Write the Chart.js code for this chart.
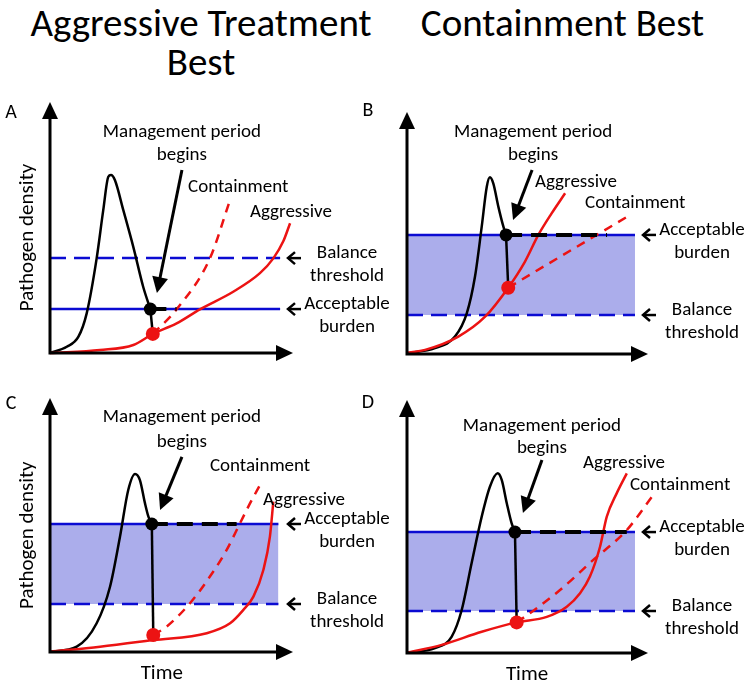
<!DOCTYPE html>
<html><head><meta charset="utf-8">
<script src="https://cdn.jsdelivr.net/npm/chart.js@4/dist/chart.umd.min.js"></script>
<style>
body{margin:0;width:750px;height:685px;background:#fff;position:relative;overflow:hidden;font-family:Carlito,Calibri,Lato,sans-serif}
.t{position:absolute;font-size:39px;text-align:center;line-height:39px;color:#000;white-space:nowrap}
canvas{position:absolute}
</style></head><body>
<div class="t" style="left:1px;width:400px;top:3px">Aggressive Treatment<br>Best</div>
<div class="t" style="left:375px;width:375px;top:3px">Containment Best</div>
<canvas id="cA" width="400" height="300" style="left:0;top:85px"></canvas>
<canvas id="cB" width="400" height="300" style="left:350px;top:85px"></canvas>
<canvas id="cC" width="400" height="300" style="left:0;top:385px"></canvas>
<canvas id="cD" width="400" height="300" style="left:350px;top:385px"></canvas>
<script>
// ---- data (x: time 0-100 to arrow tip, y: density 0-100 to arrow tip) ----
const panelLetters = ['A','B','C','D'];
const acceptableBurden = [17.5, 49.2, 50.4, 47.8];
const balanceThreshold = [37.8, 16.1, 18.9, 16.6];
const thresholdEnd = [94.7, 94.6, 94.0, 94.6];

const outbreakA = [[0,0],[6.9,2.5],[11.7,6.5],[15.1,15.8],[19.2,37.7],[21.9,56.8],[24.0,70.2],[25.1,70.9],[26.7,68.9],[30.2,56.8],[34.3,42.2],[38.4,26.2],[41.3,17.5]];
const aggressiveA = [[0,0],[20.6,1.2],[34.3,3.2],[42.3,7.6],[52.1,11.8],[61.7,17.4],[75.4,24.4],[86.4,31.8],[91.9,37.7],[96.0,44.5],[98.8,51.7]];
const containmentA = [[42.3,7.6],[52.1,17.4],[65.8,37.7],[74.1,61.0]];

const outbreakB = [[0,0.3],[11.6,2.4],[19.9,7.2],[24.8,16.8],[28.2,31.9],[31.0,52.6],[33.1,69.1],[34.4,73.0],[35.8,70.5],[37.9,60.9],[40.0,52.6],[41.1,49.2]];
const aggressiveB = [[0,0.5],[7.5,1.7],[21.3,7.2],[32.4,15.4],[42.0,27.4],[48.9,38.1],[54.5,49.2],[60.0,58.1],[65.6,66.4]];
const containmentB = [[42.0,27.4],[92.5,57.4]];

const outbreakC = [[0,0.1],[11.0,2.1],[19.2,11.3],[24.7,25.7],[28.8,45.4],[32.2,63.8],[35.0,70.1],[37.0,67.7],[39.1,58.5],[40.5,53.3],[41.9,50.4]];
const aggressiveC = [[0,0.1],[20.6,2.1],[42.5,4.7],[64.5,7.4],[74.1,11.3],[79.5,16.5],[83.7,21.8],[87.8,32.3],[90.5,45.4],[91.9,59.2]];
const containmentC = [[42.5,6.7],[48.0,10.0],[57.6,19.2],[65.8,29.7],[72.7,40.2],[78.2,50.7],[82.3,58.5],[86.4,65.7]];

const outbreakD = [[0,0.1],[11.6,1.9],[18.5,6.4],[22.7,17.0],[26.8,35.5],[31.0,53.9],[34.4,65.7],[37.6,71.0],[39.3,68.4],[41.4,59.2],[43.4,51.3],[44.8,47.8]];
const aggressiveD = [[0,0.1],[14.4,3.2],[31.0,8.4],[45.5,12.1],[58.0,14.3],[66.3,18.3],[71.8,23.6],[75.9,30.2],[80.1,42.0],[82.9,53.9],[87.0,63.1],[91.2,71.0]];
const containmentD = [[45.5,12.1],[51.0,15.7],[63.5,24.9],[77.3,36.8],[91.2,48.6],[102.2,62.5]];

const managementStart = [[41.3,17.5],[41.1,49.2],[41.9,50.4],[44.8,47.8]]; // black dot
const managementRed   = [[42.3,7.6],[42.0,27.4],[42.5,6.7],[45.5,12.1]];  // red dot
const holdEnd = [52.1, 83.0, 76.8, 91.2]; // end of black dashed hold line

// ---- annotation text ----
const mgmtText = ['Management period','begins'];
const mgmtTextPos = [[54.3,88.0,78.9],[52.3,91.7,82.2],[54.3,92.5,82.7],[56.0,89.7,81.0]];
const mgmtArrow = [[[54.3,72.9],[44.0,23.9]],[[51.9,76.0],[44.0,55.4]],[[54.3,76.8],[45.3,55.9]],[[56.0,76.3],[48.1,55.3]]];
const containmentLabel = [[56.8,66.1],[73.9,62.4],[65.8,73.2],[92.5,66.4]];
const aggressiveLabel = [[82.3,56.2],[53.1,71.1],[87.7,59.8],[73.0,75.1]];
const timeLabelX = [null,null,46.0,49.8];
const shaded = [false,true,true,true];
const letterDy = [11,-1,6,3];

const BLUE='#0b0bd2', RED='#ec1313', FILL='rgba(120,122,222,0.62)';
const FF='Carlito, Calibri, Lato, sans-serif';
const pts = a => a.map(p => ({x:p[0], y:p[1]}));

const sketch = {
  id:'sketch',
  afterDraw(chart, args, o){
    const i=o.i, ctx=chart.ctx, a=chart.chartArea, xs=chart.scales.x, ys=chart.scales.y;
    const X=v=>xs.getPixelForValue(v), Y=v=>ys.getPixelForValue(v);
    ctx.save();
    ctx.strokeStyle='#000'; ctx.fillStyle='#000'; ctx.lineCap='butt';
    // axes with arrowheads
    ctx.lineWidth=3;
    ctx.beginPath(); ctx.moveTo(a.left,a.top+10); ctx.lineTo(a.left,a.bottom); ctx.lineTo(a.right-10,a.bottom); ctx.stroke();
    ctx.beginPath(); ctx.moveTo(a.left,a.top); ctx.lineTo(a.left-8,a.top+17); ctx.lineTo(a.left+8,a.top+17); ctx.closePath(); ctx.fill();
    ctx.beginPath(); ctx.moveTo(a.right,a.bottom); ctx.lineTo(a.right-17,a.bottom-8); ctx.lineTo(a.right-17,a.bottom+8); ctx.closePath(); ctx.fill();
    // management arrow
    const [p0,p1]=mgmtArrow[i];
    const x0=X(p0[0]),y0=Y(p0[1]),x1=X(p1[0]),y1=Y(p1[1]);
    const ang=Math.atan2(y1-y0,x1-x0), L=16, W=8;
    ctx.lineWidth=3;
    ctx.beginPath(); ctx.moveTo(x0,y0); ctx.lineTo(x1-Math.cos(ang)*L*0.8,y1-Math.sin(ang)*L*0.8); ctx.stroke();
    ctx.beginPath(); ctx.moveTo(x1,y1);
    ctx.lineTo(x1-Math.cos(ang)*L+Math.sin(ang)*W, y1-Math.sin(ang)*L-Math.cos(ang)*W);
    ctx.lineTo(x1-Math.cos(ang)*L-Math.sin(ang)*W, y1-Math.sin(ang)*L+Math.cos(ang)*W);
    ctx.closePath(); ctx.fill();
    // texts
    ctx.textBaseline='middle';
    ctx.font='19px '+FF; ctx.textAlign='center';
    const mp=mgmtTextPos[i];
    ctx.fillText(mgmtText[0],X(mp[0]),Y(mp[1]));
    ctx.fillText(mgmtText[1],X(mp[0]),Y(mp[2]));
    ctx.textAlign='left';
    ctx.fillText('Containment',X(containmentLabel[i][0]),Y(containmentLabel[i][1]));
    ctx.fillText('Aggressive',X(aggressiveLabel[i][0]),Y(aggressiveLabel[i][1]));
    // right side labels with chevron arrows
    const labs=[[acceptableBurden[i],['Acceptable','burden']],[balanceThreshold[i],['Balance','threshold']]];
    ctx.lineWidth=2.5; ctx.textAlign='center';
    for(const [v,t] of labs){
      const y=Y(v), tip=a.right-5;
      ctx.beginPath(); ctx.moveTo(tip,y); ctx.lineTo(tip+13,y); ctx.stroke();
      ctx.beginPath(); ctx.moveTo(tip+7,y-6); ctx.lineTo(tip,y); ctx.lineTo(tip+7,y+6); ctx.stroke();
      ctx.fillText(t[0],a.right+54,y-5);
      ctx.fillText(t[1],a.right+54,y+18);
    }
    // panel letter
    ctx.font='20px '+FF;
    ctx.fillText(panelLetters[i],a.left-39,a.top+letterDy[i]);
    // axis titles
    if(i%2===0){
      ctx.save(); ctx.translate(a.left-22,Y(46)); ctx.rotate(-Math.PI/2);
      ctx.font='21px '+FF; ctx.fillText('Pathogen density',0,0); ctx.restore();
    }
    if(timeLabelX[i]!==null){
      ctx.font='21px '+FF; ctx.fillText('Time',X(timeLabelX[i]),a.bottom+22);
    }
    ctx.restore();
  }
};

const series = [[outbreakA,aggressiveA,containmentA],[outbreakB,aggressiveB,containmentB],[outbreakC,aggressiveC,containmentC],[outbreakD,aggressiveD,containmentD]];
const pads = [{left:50,top:17,right:107,bottom:32},{left:57,top:27,right:102,bottom:31},{left:50,top:13,right:107,bottom:33},{left:57,top:15,right:102,bottom:32}];

['cA','cB','cC','cD'].forEach((id,i)=>{
  const [ob,ag,co]=series[i];
  const ms=managementStart[i], mr=managementRed[i];
  new Chart(document.getElementById(id),{
    type:'line',
    data:{datasets:[
      {label:'Acceptable burden',data:pts([[0,acceptableBurden[i]],[thresholdEnd[i],acceptableBurden[i]]]),borderColor:BLUE,borderWidth:2.5,fill:shaded[i]?'+1':false,backgroundColor:FILL,order:9},
      {label:'Balance threshold',data:pts([[0,balanceThreshold[i]],[thresholdEnd[i],balanceThreshold[i]]]),borderColor:BLUE,borderWidth:2.5,borderDash:[16,8],fill:false,order:8},
      {label:'Outbreak',data:pts(ob),borderColor:'#000',borderWidth:2.5,cubicInterpolationMode:'monotone',fill:false,order:7},
      {label:'Aggressive',data:pts(ag),borderColor:RED,borderWidth:2.5,cubicInterpolationMode:'monotone',fill:false,order:5},
      {label:'Containment',data:pts(co),borderColor:RED,borderWidth:2.5,borderDash:[9,7],cubicInterpolationMode:'monotone',fill:false,order:5},
      {label:'Drop',data:pts([ms,mr]),borderColor:'#000',borderWidth:2.5,fill:false,order:4},
      {label:'Hold',data:pts([ms,[holdEnd[i],ms[1]]]),borderColor:'#000',borderWidth:4,borderDash:[16,9],fill:false,order:3},
      {label:'Start',data:pts([ms]),showLine:false,pointRadius:6.5,pointBackgroundColor:'#000',pointBorderWidth:0,order:2},
      {label:'Start red',data:pts([mr]),showLine:false,pointRadius:7,pointBackgroundColor:RED,pointBorderWidth:0,order:1}
    ]},
    options:{
      responsive:false,animation:false,
      layout:{padding:pads[i]},
      elements:{point:{radius:0,hoverRadius:0},line:{tension:0}},
      datasets:{line:{clip:false}},
      scales:{x:{type:'linear',min:0,max:100,display:false},y:{type:'linear',min:0,max:100,display:false}},
      plugins:{legend:{display:false},tooltip:{enabled:false},title:{display:false},sketch:{i}}
    },
    plugins:[sketch]
  });
});
</script>
</body></html>
